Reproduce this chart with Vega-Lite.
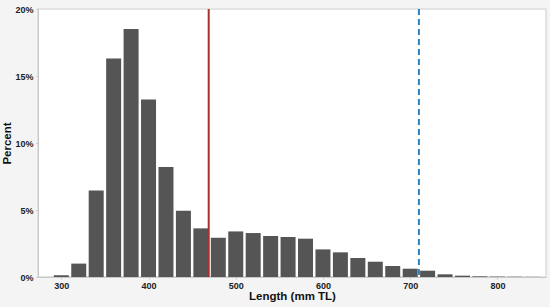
{
  "$schema": "https://vega.github.io/schema/vega-lite/v6.json",
  "width": 508,
  "height": 268,
  "autosize": "none",
  "padding": {"left": 38, "top": 9, "right": 4, "bottom": 30},
  "background": "#f4f4f4",
  "config": {
    "view": {"fill": "white", "stroke": "#dcdcdc", "strokeWidth": 1.5},
    "axis": {"labelFont": "Liberation Sans", "titleFont": "Liberation Sans", "labelFontWeight": "bold", "titleFontWeight": "bold", "labelColor": "#222", "titleColor": "#111", "grid": false, "domainColor": "#c8c8c8", "tickColor": "#c8c8c8", "tickSize": 2, "labelFontSize": 9, "titleFontSize": 11.5}
  },
  "layer": [
    {
      "data": {"values": [
        {"len": 300, "pct": 0.13}, {"len": 320, "pct": 1.0}, {"len": 340, "pct": 6.45},
        {"len": 360, "pct": 16.3}, {"len": 380, "pct": 18.5}, {"len": 400, "pct": 13.25},
        {"len": 420, "pct": 8.2}, {"len": 440, "pct": 4.95}, {"len": 460, "pct": 3.63},
        {"len": 480, "pct": 2.93}, {"len": 500, "pct": 3.4}, {"len": 520, "pct": 3.28},
        {"len": 540, "pct": 3.06}, {"len": 560, "pct": 2.98}, {"len": 580, "pct": 2.86},
        {"len": 600, "pct": 2.06}, {"len": 620, "pct": 1.84}, {"len": 640, "pct": 1.42},
        {"len": 660, "pct": 1.14}, {"len": 680, "pct": 0.82}, {"len": 700, "pct": 0.62},
        {"len": 720, "pct": 0.47}, {"len": 740, "pct": 0.2}, {"len": 760, "pct": 0.1},
        {"len": 780, "pct": 0.05}, {"len": 800, "pct": 0.03}, {"len": 820, "pct": 0.02},
        {"len": 840, "pct": 0.01}
      ]},
      "mark": {"type": "bar", "color": "#555555", "size": 15},
      "encoding": {
        "x": {"field": "len", "type": "quantitative", "title": "Length (mm TL)",
              "scale": {"domain": [279, 850], "nice": false, "zero": false},
              "axis": {"values": [300, 400, 500, 600, 700, 800], "titlePadding": 0, "labelPadding": 2}},
        "y": {"field": "pct", "type": "quantitative", "title": "Percent",
              "scale": {"domain": [0, 20], "nice": false},
              "axis": {"values": [0, 5, 10, 15, 20], "labelExpr": "datum.value + '%'", "labelPadding": 3, "titlePadding": 2}}
      }
    },
    {
      "data": {"values": [{"v": 469, "kind": "mean"}]},
      "mark": {"type": "rule", "color": "#a8302f", "strokeWidth": 2},
      "encoding": {"x": {"field": "v", "type": "quantitative"}}
    },
    {
      "data": {"values": [{"v": 710, "kind": "max"}]},
      "mark": {"type": "rule", "color": "#2a80c0", "strokeWidth": 2, "strokeDash": [6, 4]},
      "encoding": {"x": {"field": "v", "type": "quantitative"}}
    }
  ]
}
